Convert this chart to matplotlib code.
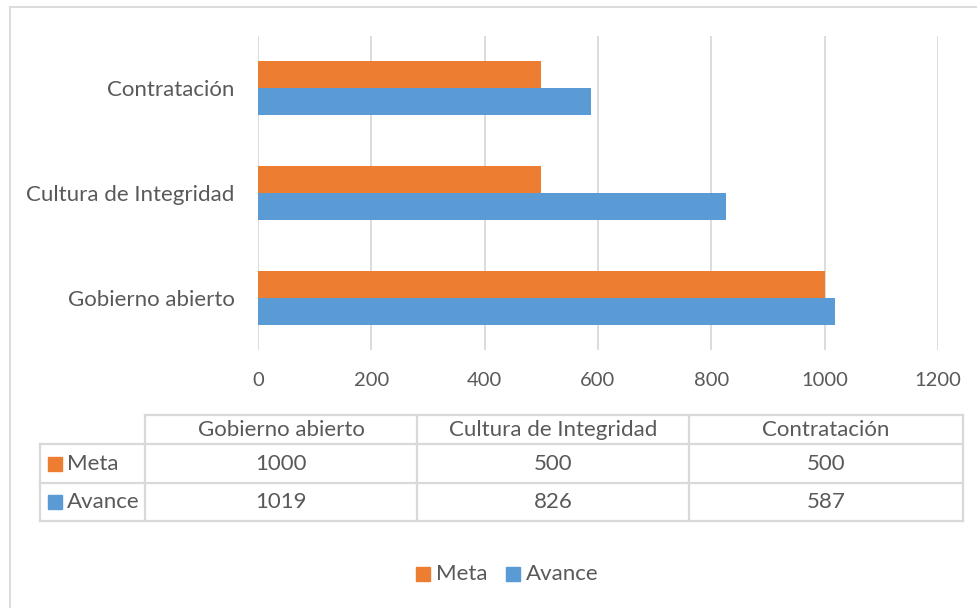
import matplotlib.pyplot as plt
import numpy as np

# datos
categorias = ['Gobierno abierto', 'Cultura de Integridad', 'Contratación']
meta = [1000, 500, 500]
avance = [1019, 826, 587]
xticks = [0, 200, 400, 600, 800, 1000, 1200]

naranja = '#ED7D31'
azul = '#5B9BD5'
gris_txt = '#595959'
gris_linea = '#D9D9D9'

plt.rcParams['font.family'] = ['Lato', 'DejaVu Sans']

W, H = 978, 608
fig = plt.figure(figsize=(W / 100, H / 100), dpi=100)

# eje principal en coordenadas de pixel
x0, x1, y0, y1 = 258, 938, 36, 350
ax = fig.add_axes([x0 / W, 1 - y1 / H, (x1 - x0) / W, (y1 - y0) / H])

y = np.arange(len(categorias))
h = 0.258
ax.barh(y - h / 2, avance, height=h, color=azul, label='Avance')
ax.barh(y + h / 2, meta, height=h, color=naranja, label='Meta')

ax.set_xlim(0, 1200)
ax.set_ylim(-0.5, 2.5)
ax.set_xticks(xticks)
ax.set_yticks(y)
ax.set_yticklabels(categorias, fontsize=16)
ax.tick_params(axis='both', length=0, colors=gris_txt)
ax.tick_params(axis='x', pad=16, labelsize=14.5)
ax.tick_params(axis='y', pad=17)
ax.grid(axis='x', color=gris_linea, linewidth=1.3)
ax.set_axisbelow(True)
for s in ax.spines.values():
    s.set_visible(False)

# capa para tabla, leyenda y borde
ov = fig.add_axes([0, 0, 1, 1])
ov.set_xlim(0, W)
ov.set_ylim(H, 0)
ov.axis('off')

# borde del grafico
ov.plot([10, W], [7, 7], color=gris_linea, lw=1.3)
ov.plot([10, 10], [7, H], color=gris_linea, lw=1.3)

# tabla de datos
cols = [145, 417, 689, 963]
filas = [415, 444, 483, 521]
lc = dict(color=gris_linea, lw=1.6)
ov.plot([cols[0], cols[-1]], [filas[0], filas[0]], **lc)
for yy in filas[1:]:
    ov.plot([40, cols[-1]], [yy, yy], **lc)
for xx in cols:
    ov.plot([xx, xx], [filas[0], filas[-1]], **lc)
ov.plot([40, 40], [filas[1], filas[-1]], **lc)

for i, cat in enumerate(categorias):
    cx = (cols[i] + cols[i + 1]) / 2
    ov.text(cx, (filas[0] + filas[1]) / 2, cat, ha='center', va='center',
            fontsize=16, color=gris_txt)
    ov.text(cx, (filas[1] + filas[2]) / 2, str(meta[i]), ha='center', va='center',
            fontsize=16, color=gris_txt)
    ov.text(cx, (filas[2] + filas[3]) / 2, str(avance[i]), ha='center', va='center',
            fontsize=16, color=gris_txt)

for nombre, color, (ya, yb) in [('Meta', naranja, filas[1:3]), ('Avance', azul, filas[2:4])]:
    yc = (ya + yb) / 2
    ov.add_patch(plt.Rectangle((48, yc - 7), 14, 14, color=color))
    ov.text(67, yc, nombre, ha='left', va='center', fontsize=16, color=gris_txt)

# leyenda
for nombre, color, xs in [('Meta', naranja, 416), ('Avance', azul, 506)]:
    ov.add_patch(plt.Rectangle((xs, 567), 14, 14, color=color))
    ov.text(xs + 20, 574, nombre, ha='left', va='center', fontsize=16, color=gris_txt)

fig.savefig('out.png', dpi=100)
